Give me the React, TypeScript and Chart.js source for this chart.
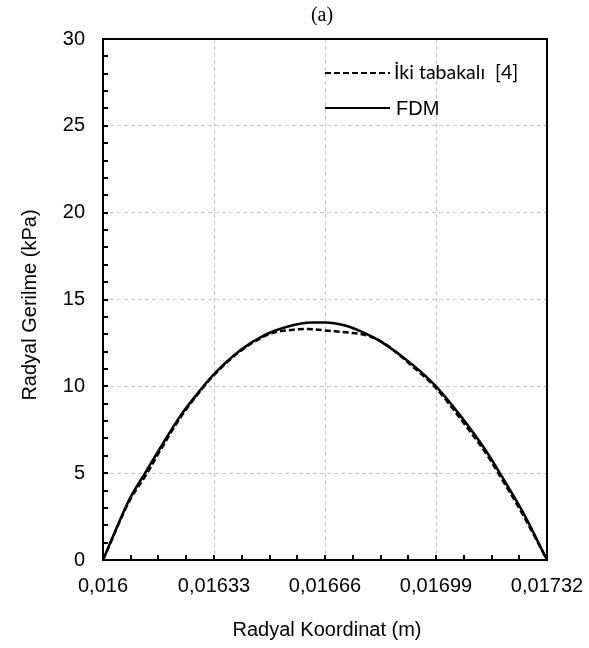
import React, { useEffect, useRef } from "react";
import { Chart, registerables } from "chart.js";

Chart.register(...registerables);

const xTickValues = [0.016, 0.01633, 0.01666, 0.01699, 0.01732];
const xTickLabels = ["0,016", "0,01633", "0,01666", "0,01699", "0,01732"];
const yTickValues = [0, 5, 10, 15, 20, 25, 30];

const fdmX = [0.016, 0.01608, 0.016125, 0.01617, 0.01623, 0.01629, 0.01633, 0.01641, 0.01648, 0.01655, 0.01662, 0.01666, 0.01672, 0.01678, 0.016824, 0.01692, 0.01699, 0.01706, 0.01714, 0.01718, 0.01725, 0.01732];
const fdmY = [0, 3.55, 5.0, 6.45, 8.3, 9.8, 10.7, 12.1, 12.95, 13.45, 13.68, 13.68, 13.5, 13.05, 12.6, 11.25, 10.0, 8.37, 6.25, 5.0, 2.7, 0];

const ikiX = [0.016, 0.01608, 0.01613, 0.01617, 0.01623, 0.01629, 0.01633, 0.01641, 0.0165, 0.01656, 0.01661, 0.01667, 0.01673, 0.01678, 0.01683, 0.01692, 0.01699, 0.01706, 0.01714, 0.01718, 0.01725, 0.01732];
const ikiY = [0, 3.45, 4.95, 6.3, 8.2, 9.75, 10.65, 12.05, 13.05, 13.25, 13.3, 13.2, 13.1, 12.95, 12.55, 11.15, 9.9, 8.2, 6.1, 4.85, 2.55, 0];

const legendLabels = ["İki tabakalı  [4]", "FDM"];
const titleText = "(a)";
const xTitle = "Radyal Koordinat (m)";
const yTitle = "Radyal Gerilme (kPa)";

const ARIAL = "'Liberation Sans', Arial, sans-serif";

const decorPlugin = {
  id: "decor",
  afterDraw(chart: any) {
    const { ctx, chartArea, scales } = chart;
    const { left, right, top, bottom } = chartArea;
    const xs = scales.x;
    const ys = scales.y;
    ctx.save();
    ctx.strokeStyle = "#000";
    ctx.lineWidth = 2;
    ctx.setLineDash([]);
    const xMin = xTickValues[0];
    const xStep = (xTickValues[1] - xTickValues[0]) / 4;
    ctx.beginPath();
    for (let i = 1; i < (xTickValues.length - 1) * 4; i++) {
      const px = Math.round(xs.getPixelForValue(xMin + i * xStep));
      ctx.moveTo(px, bottom);
      ctx.lineTo(px, bottom - 5);
    }
    for (let v = yTickValues[0] + 1; v < yTickValues[yTickValues.length - 1]; v++) {
      const py = Math.round(ys.getPixelForValue(v));
      ctx.moveTo(left, py);
      ctx.lineTo(left + 5, py);
    }
    ctx.stroke();
    ctx.strokeRect(left, top, right - left, bottom - top);

    ctx.fillStyle = "#000";
    ctx.font = "20px 'Liberation Serif', 'Times New Roman', serif";
    ctx.textAlign = "center";
    ctx.textBaseline = "alphabetic";
    ctx.fillText(titleText, 322, 21);

    ctx.font = "20px " + ARIAL;
    ctx.fillText(xTitle, 327, 636);
    ctx.save();
    ctx.translate(36, 305);
    ctx.rotate(-Math.PI / 2);
    ctx.fillText(yTitle, 0, 0);
    ctx.restore();

    ctx.lineWidth = 2;
    ctx.setLineDash([6, 3]);
    ctx.beginPath();
    ctx.moveTo(325, 73);
    ctx.lineTo(390, 73);
    ctx.stroke();
    ctx.setLineDash([]);
    ctx.beginPath();
    ctx.moveTo(325, 108);
    ctx.lineTo(390, 108);
    ctx.stroke();
    ctx.textAlign = "left";
    ctx.textBaseline = "middle";
    ctx.font = "19.5px Lato, 'Open Sans', sans-serif";
    ctx.fillText(legendLabels[0], 394, 73);
    ctx.font = "20px " + ARIAL;
    ctx.fillText(legendLabels[1], 396, 109);
    ctx.restore();
  },
};

export default function App() {
  const ref = useRef<HTMLCanvasElement>(null);
  useEffect(() => {
    if (!ref.current) return;
    const tickFont = { family: ARIAL, size: 20 };
    const chart = new Chart(ref.current, {
      type: "line",
      data: {
        datasets: [
          {
            label: legendLabels[0],
            data: ikiX.map((x, i) => ({ x, y: ikiY[i] })),
            borderColor: "#000",
            borderWidth: 2.5,
            borderDash: [6, 3],
            pointRadius: 0,
            cubicInterpolationMode: "monotone",
            fill: false,
          },
          {
            label: legendLabels[1],
            data: fdmX.map((x, i) => ({ x, y: fdmY[i] })),
            borderColor: "#000",
            borderWidth: 2.5,
            pointRadius: 0,
            cubicInterpolationMode: "monotone",
            fill: false,
          },
        ],
      },
      options: {
        animation: false,
        responsive: true,
        maintainAspectRatio: false,
        layout: { padding: { top: 39, right: 42, left: 0, bottom: 0 } },
        plugins: { legend: { display: false }, title: { display: false }, tooltip: { enabled: false } },
        scales: {
          x: {
            type: "linear",
            min: xTickValues[0],
            max: xTickValues[xTickValues.length - 1],
            afterBuildTicks: (s: any) => {
              s.ticks = xTickValues.map((v) => ({ value: v }));
            },
            afterFit: (s: any) => {
              s.height = 88;
              s.paddingLeft = 0;
              s.paddingRight = 0;
            },
            ticks: {
              color: "#000",
              font: tickFont,
              padding: 14,
              maxRotation: 0,
              autoSkip: false,
              callback: (v: any, i: number) => xTickLabels[i],
            },
            grid: {
              drawTicks: false,
              color: (c: any) => (c.index === 0 || c.index === xTickValues.length - 1 ? "rgba(0,0,0,0)" : "#c8c8c8"),
              lineWidth: 1,
            },
            border: { display: false, dash: [4, 3] },
            title: { display: false },
          },
          y: {
            type: "linear",
            min: yTickValues[0],
            max: yTickValues[yTickValues.length - 1],
            afterBuildTicks: (s: any) => {
              s.ticks = yTickValues.map((v) => ({ value: v }));
            },
            afterFit: (s: any) => {
              s.width = 103;
              s.paddingTop = 0;
              s.paddingBottom = 0;
            },
            ticks: {
              color: "#000",
              font: tickFont,
              padding: 18,
              callback: (v: any) => String(v),
            },
            grid: {
              drawTicks: false,
              color: (c: any) => (c.index === 0 || c.index === yTickValues.length - 1 ? "rgba(0,0,0,0)" : "#c8c8c8"),
              lineWidth: 1,
            },
            border: { display: false, dash: [4, 3] },
            title: { display: false },
          },
        },
      },
      plugins: [decorPlugin],
    } as any);
    return () => chart.destroy();
  }, []);
  return (
    <div style={{ position: "absolute", left: 0, top: 0, width: 589, height: 648, background: "#fff" }}>
      <canvas ref={ref} />
    </div>
  );
}
